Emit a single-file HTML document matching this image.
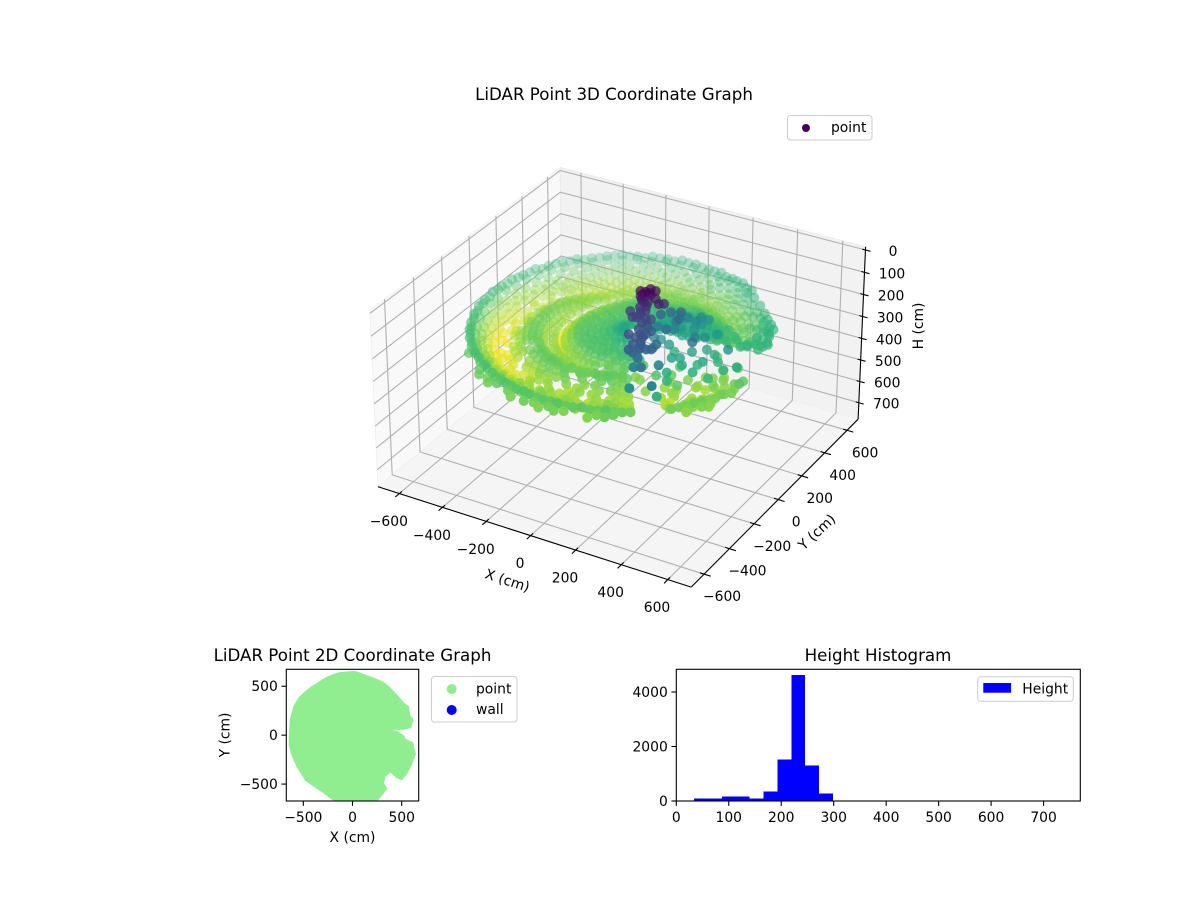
<!DOCTYPE html>
<html lang="en">
<head>
<meta charset="utf-8">
<title>LiDAR Point Graphs</title>
<style>
html,body{margin:0;padding:0;background:#fff;}
svg{display:block;font-family:"DejaVu Sans","Liberation Sans",sans-serif;fill:#000;}
text{font-size:13.89px;}
.title{font-size:16.67px;text-anchor:middle;}
</style>
</head>
<body>
<svg id="chart" xmlns="http://www.w3.org/2000/svg" width="1200" height="900" viewBox="0 0 1200 900">
  <rect x="0" y="0" width="1200" height="900" fill="#fff"/>
  <defs><clipPath id="clip2d"><rect x="286.3" y="669.3" width="132.4" height="131.7"/></clipPath></defs>

  <g id="scene3d"></g>
  <text class="title" x="614" y="100">LiDAR Point 3D Coordinate Graph</text>
  <text text-anchor="middle" transform="translate(506,585) rotate(18)">X (cm)</text>
  <text text-anchor="middle" transform="translate(820,535.5) rotate(-43)">Y (cm)</text>
  <text text-anchor="middle" transform="translate(923,326) rotate(-90)">H (cm)</text>
  <g>
    <rect x="787.5" y="115.5" width="84.5" height="24.5" rx="3" fill="#fff" fill-opacity=".8" stroke="#ccc"/>
    <circle cx="806" cy="128" r="4" fill="#440154"/>
    <text x="831" y="132">point</text>
  </g>

  <g id="scene2d"></g>
  <text class="title" x="352.5" y="661">LiDAR Point 2D Coordinate Graph</text>
  <text text-anchor="middle" x="352.5" y="842">X (cm)</text>
  <text text-anchor="middle" transform="translate(229.5,735) rotate(-90)">Y (cm)</text>
  <g>
    <rect x="431.5" y="676.5" width="85.5" height="45.5" rx="3" fill="#fff" stroke="#ccc"/>
    <circle cx="451.7" cy="689" r="5" fill="#90ee90"/>
    <circle cx="451.7" cy="710" r="5" fill="#0000ff"/>
    <text x="476" y="693.5">point</text>
    <text x="476" y="714">wall</text>
  </g>

  <g id="sceneHist"></g>
  <text class="title" x="878" y="661">Height Histogram</text>
  <g>
    <rect x="977.7" y="676.7" width="95.6" height="24.6" rx="3" fill="#fff" stroke="#ccc"/>
    <rect x="983.3" y="683" width="27.8" height="9.7" fill="#0000ff"/>
    <text x="1022.3" y="693.3">Height</text>
  </g>
</svg>
<script>
const _ = null;

// ---------- 3D scatter data (cm): concentric scan rings ----------
const ringRadii   = [630,612,595,590,572,549,525,500,475,450,425,400,375,350,328,305,335,312,290,265,240,215,190,165,140,115,90,65,40];
const ringCenterX = [0,0,0,0,0,0,0,0,0,0,0,0,0,0,0,0,60,60,60,60,60,60,60,60,60,60,60,60,60];
const ringCenterY = [0,0,0,0,0,0,0,0,0,0,0,0,0,0,0,0,30,30,30,30,30,30,30,30,30,30,30,30,30];
const ringHeights = [
 [_,_,_,_,_,_,_,_,_,_,_,_,_,_,_,_,_,_,_,_,_,_,_,_,_,_,_,_,_,_,_,_,_,_,_,_,_,_,_,_,234,238,_,242,236,244,240,_,246,238,_,_,_,_,_,_,_,_,_,_],
 [_,_,_,_,_,_,_,_,_,_,_,_,_,_,_,_,_,_,_,_,_,_,_,_,_,_,_,_,_,_,_,_,_,_,_,_,_,230,_,234,238,232,236,_,240,238,244,_,242,236,_,_,_,_,_,_,_,_,_,_],
 [_,_,_,_,_,_,_,_,_,_,204,200,206,202,208,204,200,206,204,208,202,206,210,206,208,210,206,212,208,214,210,216,212,214,218,214,216,220,216,222,218,224,222,226,224,228,226,230,232,228,236,_,_,238,240,236,242,_,228,_],
 [_,_,_,_,_,_,_,_,_,_,206,202,208,204,206,202,208,204,210,206,204,208,212,208,206,212,208,210,214,212,216,214,218,216,220,216,218,222,218,220,224,226,226,224,230,228,232,228,234,236,238,_,_,240,236,242,238,_,232,_],
 [_,_,_,206,200,208,204,210,206,202,208,212,206,210,214,208,212,206,214,210,216,212,218,214,220,218,224,222,228,226,232,228,234,232,236,234,238,236,240,236,242,238,240,246,242,248,244,250,246,244,248,_,_,250,246,_,252,_,238,_],
 [_,_,208,214,208,216,212,218,214,210,216,220,214,222,218,224,218,226,220,228,224,230,226,232,230,234,238,242,246,250,246,252,256,252,250,248,254,250,246,252,248,250,246,250,244,252,248,254,250,246,254,_,_,_,254,260,_,248,_,_],
 [_,_,_,218,224,216,228,220,226,222,224,228,222,230,226,232,228,234,230,236,232,238,236,242,246,244,248,252,256,258,262,266,268,272,272,274,270,270,268,268,264,262,250,254,246,256,250,258,252,246,256,_,_,262,_,258,_,252,_,_],
 [_,_,_,226,232,224,234,228,236,230,232,236,230,238,234,240,236,242,238,244,240,246,246,252,254,246,250,254,258,264,270,276,282,286,288,290,288,286,284,280,278,272,256,260,252,262,256,264,258,252,258,_,_,268,_,_,260,_,250,_],
 [_,_,_,232,238,230,240,234,242,238,240,242,238,246,240,248,244,250,246,252,250,256,252,254,256,250,256,262,268,_,276,282,_,288,292,_,292,288,_,282,280,_,260,_,256,262,258,_,254,258,258,_,_,258,_,_,252,_,_,_],
 [_,_,_,236,242,234,244,238,246,242,244,248,242,250,246,252,248,254,252,254,252,256,254,256,256,254,258,_,264,270,_,278,284,_,288,_,288,284,280,_,276,272,256,252,_,258,250,254,_,250,254,_,_,_,254,_,_,246,_,_],
 [_,_,_,232,240,236,244,240,248,244,246,250,244,252,248,254,250,256,256,258,258,260,260,262,262,258,_,268,272,_,280,274,_,272,268,_,266,262,264,_,260,262,248,254,_,246,252,_,248,244,250,_,250,_,_,_,242,_,_,_],
 [_,_,_,226,234,230,238,234,242,238,242,246,240,248,244,250,248,252,254,258,260,264,266,270,272,270,268,_,264,262,260,258,_,256,254,258,252,254,_,250,252,248,244,248,240,_,246,242,_,240,244,_,_,_,244,_,_,_,_,_],
 [_,_,_,222,230,226,234,230,238,232,238,242,236,244,240,246,244,250,250,254,256,260,262,264,262,258,254,252,248,250,246,_,244,246,242,244,240,_,242,238,240,236,236,240,234,_,238,_,234,232,236,_,_,_,_,232,_,_,_,_],
 [_,_,_,216,224,220,228,226,232,228,232,238,234,240,238,244,242,246,248,252,252,256,254,252,248,246,244,240,242,238,240,236,238,234,236,232,234,_,232,230,232,228,232,236,_,234,_,230,228,_,234,_,_,_,_,_,226,_,_,_],
 [_,_,_,_,_,_,_,_,_,_,_,_,_,_,_,_,_,_,_,_,_,_,252,250,248,246,244,242,244,240,242,238,240,238,242,238,240,236,238,236,238,234,236,240,234,238,236,232,234,230,232,_,_,_,_,_,_,_,_,_],
 [_,_,_,_,_,_,_,_,_,_,_,_,_,_,_,_,_,_,_,_,_,_,_,_,250,248,250,246,252,250,254,252,256,254,258,256,260,262,258,264,260,258,256,252,254,250,246,248,244,240,_,_,_,_,_,_,_,_,_,_],
 [_,_,_,214,220,224,230,234,238,236,240,244,248,252,256,252,250,248,252,250,256,258,258,254,254,248,252,250,256,254,258,256,254,258,254,252,256,254,250,252,248,246,250,248,246,_,244,_,240,_,244,_,_,_,_,_,_,_,_,_],
 [_,_,212,204,210,214,220,226,232,238,244,250,256,260,262,258,264,262,268,272,276,278,282,284,286,288,290,292,294,292,295,290,292,288,290,284,286,282,278,280,274,270,268,264,260,256,_,252,_,246,_,_,_,_,_,_,_,_,_,_],
 [_,_,206,198,204,208,214,220,226,232,238,244,250,254,258,252,256,254,260,264,268,270,270,268,268,268,270,266,272,268,270,264,266,262,264,258,260,256,252,254,248,246,246,242,238,_,234,_,230,_,_,_,_,_,_,_,_,_,_,_],
 [_,193,196,192,200,198,204,208,214,220,224,228,230,226,228,232,234,238,240,244,248,250,252,246,250,244,248,242,246,240,244,238,242,236,240,236,238,232,230,226,222,_,_,_,_,_,_,_],
 [_,198,202,196,204,200,206,210,216,220,222,226,228,224,226,222,224,228,232,234,236,234,238,232,236,230,234,228,232,226,230,224,228,222,226,222,228,224,220,216,212,_,_,_,_,_,_,_],
 [190,194,198,192,200,196,202,208,212,216,218,214,220,216,218,222,224,228,232,230,234,228,232,226,230,224,228,222,226,220,224,222,218,224,216,212,208,_,_,_,_,_,_,_],
 [186,190,194,188,196,192,198,202,208,212,216,212,218,214,220,224,226,230,228,232,226,230,224,228,222,226,220,224,218,222,214,218,210,202,_,_,_,_,_,_],
 [182,186,190,184,192,188,196,200,206,210,214,210,216,220,224,228,226,230,224,228,222,226,220,224,218,222,216,220,212,208,200,_,_,_,_,_],
 [180,186,182,190,186,194,200,206,212,216,220,224,228,224,228,222,226,220,224,218,222,214,218,210,204,196,_,_,_,_,_,_],
 [182,188,184,192,196,202,208,214,220,224,222,226,220,224,218,222,216,212,216,208,200,190,_,_,_,_,_,_],
 [186,182,190,196,204,212,218,222,220,224,218,222,216,212,208,202,194,186,_,_,_,_,_,_],
 [188,192,200,208,216,218,222,216,220,214,208,202,194,186,_,_,_,_,_,_],
 [198,206,214,218,214,216,208,202,194,_,_,_,_,_]
];
// loose points: central post, near returns and the open front-right sector
const scatterX = [90,80,92,119,138,176,114,132,166,115,176,212,212,198,258,160,189,184,222,236,240,173,230,285,356,355,195,213,240,277,314,291,364,473,545,204,250,237,290,371,345,382,300,353,399,422,330,500,475,410,381,353,456,486,493,504,429,536,555,407,497,462,472,503,530,570,517,393,493,494,436,504,548,281,382,85,100,95,125,105,120,150,200,225,180,240,205,519,457,530,545,514,493,470,414,367,329,377,492,496,527,545,560,580,462,474,414,273,324,413,334,370,66,112,116,107,164,103,153,79,146,181,199,192,244,250,225,167,223,275,274,297];
const scatterY = [25,2,60,-10,19,16,-57,-49,-68,-89,-204,-227,-288,-163,-227,-151,-248,58,70,30,94,-26,1,63,-83,20,-93,-133,-331,-339,-270,-451,-411,-11,-74,-56,-73,44,110,87,-64,-13,-143,-157,-118,-25,-235,-97,-174,-177,-402,-274,-60,122,190,249,143,116,161,103,299,-346,-284,-259,-189,-140,-9,-288,-360,-166,-183,-104,-300,-229,-246,10,35,-15,-30,-45,-70,-110,-190,-260,-120,-300,-215,277,314,220,138,138,109,95,153,189,-249,-277,-374,-326,-317,-279,-201,-180,-110,-52,12,-73,-120,-103,-22,105,26,26,58,-21,-3,-100,-85,-75,-204,-173,-125,-284,-242,-174,-52,8,30,136,98,159];
const scatterH = [35,45,38,55,50,60,78,72,90,85,100,110,115,100,118,95,105,115,110,118,140,140,150,165,130,160,150,170,150,135,150,165,155,165,190,175,175,170,165,175,185,190,185,195,200,195,195,205,210,200,200,205,200,205,205,205,210,210,205,205,200,250,255,250,255,245,235,255,245,240,250,245,248,225,232,40,42,48,62,65,80,88,98,108,92,125,103,205,205,205,205,205,205,205,205,205,255,250,250,250,245,245,240,240,245,235,225,200,190,190,145,185,38,42,40,52,55,82,85,75,95,100,105,110,115,125,125,105,130,150,150,165];
const xTicks3d = [-600,-400,-200,0,200,400,600];
const yTicks3d = [-600,-400,-200,0,200,400,600];
const hTicks3d = [0,100,200,300,400,500,600,700];

// ---------- 2D footprint outline (cm) ----------
const footprintX = [38,90,140,230,311,365,414,470,517,568,579,613,592,517,431,305,449,524,530,613,620,637,603,551,500,449,387,329,312,346,295,226,-150,-230,-305,-390,-476,-561,-620,-640,-640,-630,-596,-545,-480,-408,-271,-200,-134,-60,0];
const footprintY = [645,625,607,575,537,495,445,385,325,290,199,158,82,62,62,62,38,-14,-41,-82,-134,-192,-288,-390,-452,-432,-373,-418,-493,-545,-613,-690,-690,-635,-578,-520,-459,-322,-185,-100,-14,157,290,378,440,497,583,615,635,642,646];
const xTicks2d = [-500,0,500];
const yTicks2d = [-500,0,500];

// ---------- histogram ----------
const histBinEdges = [33.7,60.2,86.7,113.2,139.7,166.2,192.7,219.2,245.7,272.2,298.7];
const histCounts = [85,85,160,160,85,340,1515,4633,1295,270];
const histXTicks = [0,100,200,300,400,500,600,700];
const histYTicks = [0,2000,4000];

const NS = 'http://www.w3.org/2000/svg';
function mk(parent, tag, attrs, txt){
  const e = document.createElementNS(NS, tag);
  for (const k in attrs) e.setAttribute(k, attrs[k]);
  if (txt !== undefined) e.textContent = txt;
  parent.appendChild(e);
  return e;
}
function fmt(v){ return v < 0 ? '\u2212' + Math.abs(v) : String(v); }

// ---------- 3D camera ----------
const xLim3d = [-700,700], yLim3d = [-700,700], hLim3d = [778,-14];
const elev = 30*Math.PI/180, azim = -60*Math.PI/180;
const W = [Math.cos(elev)*Math.cos(azim), Math.cos(elev)*Math.sin(azim), Math.sin(elev)];
const U = [-Math.sin(azim), Math.cos(azim), 0];
const V = [W[1]*U[2]-W[2]*U[1], W[2]*U[0]-W[0]*U[2], W[0]*U[1]-W[1]*U[0]];
function project(x, y, h){
  const qx = ((x-xLim3d[0])/(xLim3d[1]-xLim3d[0])-0.5)*1.1428;
  const qy = ((y-yLim3d[0])/(yLim3d[1]-yLim3d[0])-0.5)*1.1428;
  const qz = -0.33 + 0.645*(h-hLim3d[0])/(hLim3d[1]-hLim3d[0]);
  const du = qx*U[0]+qy*U[1]+qz*U[2];
  const dv = qx*V[0]+qy*V[1]+qz*V[2];
  const dw = qx*W[0]+qy*W[1]+qz*W[2];
  const d = 10-dw;
  return {x: 622.3+3125*du/d, y: 364.5-3125*dv/d, depth: dw};
}

const viridisStops = [[68,1,84],[72,40,120],[62,74,137],[49,104,142],[38,130,142],[31,158,137],[53,183,121],[109,205,89],[180,222,44],[253,231,37]];
function viridis(t){
  t = Math.max(0, Math.min(1, t))*(viridisStops.length-1);
  const i = Math.min(Math.floor(t), viridisStops.length-2), f = t-i;
  const a = viridisStops[i], b = viridisStops[i+1];
  return 'rgb('+[0,1,2].map(k => Math.round(a[k]+(b[k]-a[k])*f)).join(',')+')';
}

// ---------- draw 3D ----------
const s3 = document.getElementById('scene3d');
const xa = xLim3d[0], xb = xLim3d[1], ya = yLim3d[0], yb = yLim3d[1], hb = hLim3d[0], ht = hLim3d[1];
function poly(pts){ return pts.map(p => { const q = project(p[0],p[1],p[2]); return q.x.toFixed(1)+','+q.y.toFixed(1); }).join(' '); }

const paneLeft = mk(s3,'polygon',{points:poly([[xa,ya,hb],[xa,yb,hb],[xa,yb,ht],[xa,ya,ht]]),fill:'#f9f9f9',stroke:'#f0f0f0','stroke-width':1});


const paneBack = mk(s3,'polygon',{points:poly([[xa,yb,hb],[xb,yb,hb],[xb,yb,ht],[xa,yb,ht]]),fill:'#f2f2f2',stroke:'#ebebeb','stroke-width':1});


const paneFloor = mk(s3,'polygon',{points:poly([[xa,ya,hb],[xb,ya,hb],[xb,yb,hb],[xa,yb,hb]]),fill:'#f5f5f5',stroke:'#f0f0f0','stroke-width':1});



const gridStyle = {fill:'none',stroke:'#b0b0b0','stroke-width':1.1};
xTicks3d.forEach(t => {
  const g = mk(s3,'polyline',Object.assign({points:poly([[t,ya,hb],[t,yb,hb],[t,yb,ht]])},gridStyle));
  
  
});
yTicks3d.forEach(t => {
  const g = mk(s3,'polyline',Object.assign({points:poly([[xb,t,hb],[xa,t,hb],[xa,t,ht]])},gridStyle));
  
  
});
hTicks3d.forEach(t => {
  const g = mk(s3,'polyline',Object.assign({points:poly([[xa,ya,t],[xa,yb,t],[xb,yb,t]])},gridStyle));
  
  
});

const axisStyle = {fill:'none',stroke:'#000','stroke-width':1.1};
const axisX = mk(s3,'polyline',Object.assign({points:poly([[xa,ya,hb],[xb,ya,hb]])},axisStyle));


const axisY = mk(s3,'polyline',Object.assign({points:poly([[xb,ya,hb],[xb,yb,hb]])},axisStyle));


const axisH = mk(s3,'polyline',Object.assign({points:poly([[xb,yb,hb],[xb,yb,ht]])},axisStyle));



xTicks3d.forEach(t => {
  const tk = mk(s3,'polyline',Object.assign({points:poly([[t,ya-28,hb],[t,ya+18,hb]])},axisStyle));
  
  
  const p = project(t,ya+25,hb);
  const lab = mk(s3,'text',{x:p.x-14,y:p.y+35.5,'text-anchor':'middle'},fmt(t));
  
  
});
yTicks3d.forEach(t => {
  const tk = mk(s3,'polyline',Object.assign({points:poly([[xb-18,t,hb],[xb+28,t,hb]])},axisStyle));
  
  
  const p = project(xb,t,hb);
  const lab = mk(s3,'text',{x:p.x+18,y:p.y+27,'text-anchor':'middle'},fmt(t));
  
  
});
hTicks3d.forEach(t => {
  const tk = mk(s3,'polyline',Object.assign({points:poly([[xb-14,yb,t],[xb+22,yb,t]])},axisStyle));
  
  
  const p = project(xb,yb,t);
  const lab = mk(s3,'text',{x:p.x+27.5,y:p.y+6,'text-anchor':'middle'},fmt(t));
  
  
});

// collect points from rings and loose arrays
const cloud = [];
ringHeights.forEach((row, r) => {
  row.forEach((h, i) => {
    if (h === null) return;
    const th = (i/row.length*360 + (r%2)*3)*Math.PI/180;
    cloud.push([ringCenterX[r]+ringRadii[r]*Math.cos(th), ringCenterY[r]+ringRadii[r]*Math.sin(th), h]);
  });
});
scatterH.forEach((h, i) => cloud.push([scatterX[i], scatterY[i], h]));

const hMin = Math.min(...cloud.map(c => c[2]));
const hMax = Math.max(...cloud.map(c => c[2]));
const projected = cloud.map(c => { const p = project(c[0],c[1],c[2]); p.h = c[2]; return p; });
const dMin = Math.min(...projected.map(p => p.depth));
const dMax = Math.max(...projected.map(p => p.depth));
projected.sort((a,b) => a.depth-b.depth);
const pointsGroup = mk(s3,'g',{});


projected.forEach(p => {
  const a = 0.3 + 0.7*(p.depth-dMin)/(dMax-dMin);
  const c = mk(pointsGroup,'circle',{cx:p.x.toFixed(1),cy:p.y.toFixed(1),r:5,fill:viridis((p.h-hMin)/(hMax-hMin)),'fill-opacity':a.toFixed(2)});
  
  
});

// ---------- draw 2D ----------
const s2 = document.getElementById('scene2d');
const ax2 = {l:286.3,r:418.7,t:669.3,b:801,lim:673};
function sx2(v){ return ax2.l+(v+ax2.lim)/(2*ax2.lim)*(ax2.r-ax2.l); }
function sy2(v){ return ax2.b-(v+ax2.lim)/(2*ax2.lim)*(ax2.b-ax2.t); }
const foot = mk(s2,'polygon',{points:footprintX.map((x,i) => sx2(x).toFixed(1)+','+sy2(footprintY[i]).toFixed(1)).join(' '),fill:'#90ee90',stroke:'#90ee90','stroke-width':1.5,'stroke-linejoin':'round','clip-path':'url(#clip2d)'});


const frame2 = mk(s2,'rect',{x:ax2.l,y:ax2.t,width:ax2.r-ax2.l,height:ax2.b-ax2.t,fill:'none',stroke:'#000','stroke-width':1.1});


xTicks2d.forEach(t => {
  const tk = mk(s2,'line',{x1:sx2(t),x2:sx2(t),y1:ax2.b,y2:ax2.b+4.9,stroke:'#000','stroke-width':1.1});
  
  
  const lab = mk(s2,'text',{x:sx2(t),y:822,'text-anchor':'middle'},fmt(t));
  
  
});
yTicks2d.forEach(t => {
  const tk = mk(s2,'line',{x1:ax2.l-4.9,x2:ax2.l,y1:sy2(t),y2:sy2(t),stroke:'#000','stroke-width':1.1});
  
  
  const lab = mk(s2,'text',{x:ax2.l-8.5,y:sy2(t)+5,'text-anchor':'end'},fmt(t));
  
  
});

// ---------- draw histogram ----------
const sh = document.getElementById('sceneHist');
const axH = {l:676.3,r:1080.3,t:669.3,b:801,xMax:770,yMax:4833};
function sxH(v){ return axH.l+v/axH.xMax*(axH.r-axH.l); }
function syH(v){ return axH.b-v/axH.yMax*(axH.b-axH.t); }
histCounts.forEach((c,i) => {
  const b = mk(sh,'rect',{x:sxH(histBinEdges[i]),y:syH(c),width:sxH(histBinEdges[i+1])-sxH(histBinEdges[i]),height:axH.b-syH(c),fill:'#0000ff','shape-rendering':'crispEdges'});
  
  
});
const frameH = mk(sh,'rect',{x:axH.l,y:axH.t,width:axH.r-axH.l,height:axH.b-axH.t,fill:'none',stroke:'#000','stroke-width':1.1});


histXTicks.forEach(t => {
  const tk = mk(sh,'line',{x1:sxH(t),x2:sxH(t),y1:axH.b,y2:axH.b+4.9,stroke:'#000','stroke-width':1.1});
  
  
  const lab = mk(sh,'text',{x:sxH(t),y:822,'text-anchor':'middle'},fmt(t));
  
  
});
histYTicks.forEach(t => {
  const tk = mk(sh,'line',{x1:axH.l-4.9,x2:axH.l,y1:syH(t),y2:syH(t),stroke:'#000','stroke-width':1.1});
  
  
  const lab = mk(sh,'text',{x:axH.l-8.5,y:syH(t)+5,'text-anchor':'end'},fmt(t));
  
  
});
</script>
</body>
</html>
